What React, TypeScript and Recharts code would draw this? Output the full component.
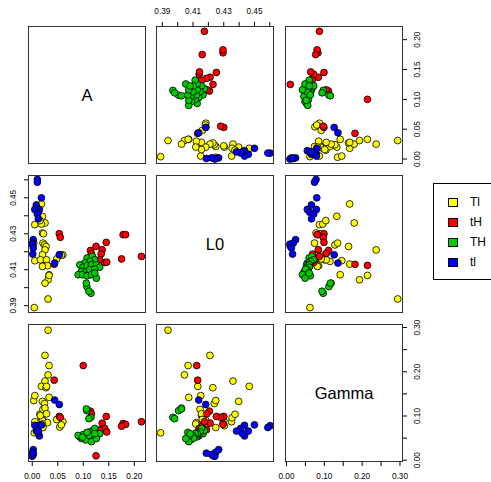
import React from 'react';
import { ScatterChart, Scatter, XAxis, YAxis } from 'recharts';

const GROUPS = ['Tl', 'tH', 'TH', 'tl'];
const COLORS = ['#ffff00', '#ff0000', '#00cd00', '#0000ff'];
const VARIABLES = ['A', 'L0', 'Gamma'];

// each point is [A, L0, Gamma]
const TL_POINTS = [
    [0.018, 0.4466, 0.167], [0.020, 0.4397, 0.133], [0.025, 0.4360, 0.179], [0.005, 0.4351, 0.087],
    [0.018, 0.4354, 0.096], [0.015, 0.4373, 0.104], [0.020, 0.4304, 0.078], [0.022, 0.4300, 0.089],
    [0.021, 0.4248, 0.074], [0.024, 0.4238, 0.128], [0.003, 0.4248, 0.135], [0.027, 0.4229, 0.164],
    [0.025, 0.4210, 0.237], [0.054, 0.4183, 0.075], [0.060, 0.4183, 0.087], [0.057, 0.4180, 0.080],
    [0.021, 0.4146, 0.115], [0.005, 0.4150, 0.146], [0.028, 0.4131, 0.167], [0.033, 0.4072, 0.142],
    [0.031, 0.4044, 0.193], [0.033, 0.4068, 0.214], [0.025, 0.4025, 0.118], [0.004, 0.3889, 0.062],
    [0.031, 0.3937, 0.294], [0.020, 0.4183, 0.090], [0.016, 0.4155, 0.101], [0.028, 0.4155, 0.105],
    [0.030, 0.4122, 0.085], [0.020, 0.4118, 0.082], [0.048, 0.4160, 0.092],
];

const TH_LOWER_POINTS = [
    [0.053, 0.4300, 0.099], [0.055, 0.4280, 0.097], [0.114, 0.4207, 0.111], [0.125, 0.4230, 0.010],
    [0.145, 0.4252, 0.099], [0.137, 0.4211, 0.084], [0.135, 0.4187, 0.069], [0.142, 0.4140, 0.072],
    [0.146, 0.4142, 0.064], [0.116, 0.4190, 0.105], [0.132, 0.4155, 0.068], [0.178, 0.4295, 0.083],
    [0.183, 0.4295, 0.081], [0.175, 0.4160, 0.077], [0.214, 0.4174, 0.087], [0.100, 0.4124, 0.214],
    [0.043, 0.4130, 0.181],
];

const TH_POINTS = [
    [0.1075, 0.4165, 0.060], [0.1179, 0.4174, 0.067], [0.1225, 0.4155, 0.072], [0.1127, 0.4146, 0.064],
    [0.1029, 0.4137, 0.055], [0.0932, 0.4127, 0.053], [0.0997, 0.4114, 0.058], [0.1075, 0.4122, 0.062],
    [0.1160, 0.4127, 0.057], [0.1257, 0.4127, 0.060], [0.1322, 0.4114, 0.060], [0.0964, 0.4090, 0.049],
    [0.1049, 0.4085, 0.046], [0.1127, 0.4100, 0.055], [0.1225, 0.4103, 0.050], [0.0899, 0.4072, 0.056],
    [0.0984, 0.4072, 0.052], [0.1075, 0.4066, 0.063], [0.1160, 0.4072, 0.042], [0.1257, 0.4053, 0.049],
    [0.1225, 0.4081, 0.060], [0.1070, 0.4006, 0.112], [0.1150, 0.3969, 0.097], [0.1110, 0.3980, 0.094],
    [0.1060, 0.4025, 0.116],
];

const TL_LOWER_POINTS = [
    [0.010, 0.4602, 0.078], [0.010, 0.4587, 0.074], [0.018, 0.4500, 0.080], [0.008, 0.4460, 0.066],
    [0.005, 0.4435, 0.079], [0.014, 0.4435, 0.055], [0.012, 0.4420, 0.061], [0.010, 0.4410, 0.072],
    [0.012, 0.4383, 0.066], [0.002, 0.4267, 0.024], [0.001, 0.4248, 0.018], [0.000, 0.4242, 0.009],
    [0.002, 0.4221, 0.013], [0.001, 0.4187, 0.016], [0.044, 0.4137, 0.136], [0.053, 0.4183, 0.126],
];

const GROUP_POINTS = [TL_POINTS, TH_LOWER_POINTS, TH_POINTS, TL_LOWER_POINTS];

const A_TICKS = [0, 0.05, 0.1, 0.15, 0.2];
const A_LABELS = [0, 0.05, 0.1, 0.15, 0.2];
const L0_TICKS = [0.39, 0.4, 0.41, 0.42, 0.43, 0.44, 0.45, 0.46];
const L0_LABELS = [0.39, 0.41, 0.43, 0.45];
const GAMMA_TICKS = [0, 0.05, 0.1, 0.15, 0.2, 0.25, 0.3];
const GAMMA_LABELS = [0, 0.1, 0.2, 0.3];

const TICKS = [A_TICKS, L0_TICKS, GAMMA_TICKS];
const LABELS = [A_LABELS, L0_LABELS, GAMMA_LABELS];
const DOMAINS: [number, number][] = [[-0.0083, 0.2229], [0.3859, 0.4627], [-0.004, 0.308]];

const FONT = '"Liberation Sans", Arial, Helvetica, sans-serif';
const PANEL_X = [28, 156, 285];
const PANEL_Y = [26, 175, 324];
const W = 118;
const H = 138;
const PAD = 30;
const AXIS = 20; // space handed to a visible axis, taken out of PAD

const hasLabel = (labels: number[], v: number) => labels.some(l => Math.abs(l - v) < 1e-9);

const makeTick = (side: string, labels: number[]) => (props: any) => {
    const { x, y, payload } = props;
    const v = payload.value;
    if (!hasLabel(labels, v)) return <g />;
    const txt = v.toFixed(2);
    const common = { fontSize: 8.2, fill: '#000', fontFamily: FONT, textAnchor: 'middle' as const };
    if (side === 'bottom') return <text x={x} y={PAD + H + 17} {...common}>{txt}</text>;
    if (side === 'top') return <text x={x} y={PAD - 12} {...common}>{txt}</text>;
    const bx = side === 'right' ? PAD + W + 17 : PAD - 11.5;
    return <text x={bx} y={y} transform={`rotate(-90 ${bx} ${y})`} {...common}>{txt}</text>;
};

const Panel: React.FC<{ row: number; col: number }> = ({ row, col }) => {
    // R pairs(): bottom axis on odd columns, top on even; left on even rows, right on odd
    const showBottom = row === 2 && col % 2 === 0;
    const showTop = row === 0 && col === 1;
    const showLeft = col === 0 && row === 1;
    const showRight = col === 2 && row % 2 === 0;
    const showX = showBottom || showTop;
    const showY = showLeft || showRight;
    const xSide = showTop ? 'top' : 'bottom';
    const ySide = showLeft ? 'left' : 'right';
    const diagonal = row === col;

    const margin = {
        top: PAD - (showTop ? AXIS : 0),
        bottom: PAD - (showBottom ? AXIS : 0),
        left: PAD - (showLeft ? AXIS : 0),
        right: PAD - (showRight ? AXIS : 0),
    };

    return (
        <div style={{ position: 'absolute', left: PANEL_X[col] - PAD, top: PANEL_Y[row] - PAD }}>
            <ScatterChart width={W + 2 * PAD} height={H + 2 * PAD} margin={margin}>
                <XAxis
                    type="number"
                    dataKey="x"
                    domain={DOMAINS[col]}
                    allowDataOverflow
                    ticks={TICKS[col]}
                    interval={0}
                    hide={!showX}
                    orientation={xSide}
                    height={AXIS}
                    axisLine={false}
                    tickLine={{ stroke: '#000' }}
                    tickSize={4}
                    tick={makeTick(xSide, LABELS[col])}
                />
                <YAxis
                    type="number"
                    dataKey="y"
                    domain={DOMAINS[row]}
                    allowDataOverflow
                    ticks={TICKS[row]}
                    interval={0}
                    hide={!showY}
                    orientation={ySide}
                    width={AXIS}
                    axisLine={false}
                    tickLine={{ stroke: '#000' }}
                    tickSize={4}
                    tick={makeTick(ySide, LABELS[row])}
                />
                {GROUP_POINTS.map((pts, g) => (
                    <Scatter
                        key={GROUPS[g]}
                        name={GROUPS[g]}
                        data={diagonal ? [] : pts.map(p => ({ x: p[col], y: p[row] }))}
                        isAnimationActive={false}
                        shape={(p: any) => (
                            <circle cx={p.cx} cy={p.cy} r={3.4} fill={COLORS[g]} stroke="#000" strokeWidth={0.8} />
                        )}
                    />
                ))}
            </ScatterChart>
        </div>
    );
};

export default function App() {
    const cells = [];
    const frames = [];
    for (let r = 0; r < 3; r++) {
        for (let c = 0; c < 3; c++) {
            cells.push(<Panel key={`${r}-${c}`} row={r} col={c} />);
            frames.push(
                <div
                    key={`frame-${r}-${c}`}
                    style={{
                        position: 'absolute', left: PANEL_X[c], top: PANEL_Y[r], width: W, height: H,
                        border: '1px solid #333', boxSizing: 'border-box', pointerEvents: 'none',
                        display: 'flex', alignItems: 'center', justifyContent: 'center',
                        fontSize: 16.5, color: '#000'
                    }}
                >
                    {r === c ? VARIABLES[r] : null}
                </div>
            );
        }
    }

    return (
        <div style={{ position: 'absolute', left: 0, top: 0, width: 491, height: 482, overflow: 'hidden', background: '#fff', fontFamily: FONT }}>
            {cells}
            {frames}
            <div style={{
                position: 'absolute', left: 433, top: 183, width: 64, height: 97,
                border: '1px solid #000', boxSizing: 'border-box', background: '#fff'
            }}>
                {GROUPS.map((g, i) => (
                    <div key={g} style={{ position: 'absolute', left: 0, top: 9 + i * 20, height: 20, width: 64 }}>
                        <div style={{
                            position: 'absolute', left: 14, top: 5, width: 10, height: 9,
                            background: COLORS[i], border: '1px solid #000', boxSizing: 'border-box'
                        }} />
                        <div style={{ position: 'absolute', left: 36, top: 2, fontSize: 12, lineHeight: '14px', color: '#000' }}>{g}</div>
                    </div>
                ))}
            </div>
        </div>
    );
}
